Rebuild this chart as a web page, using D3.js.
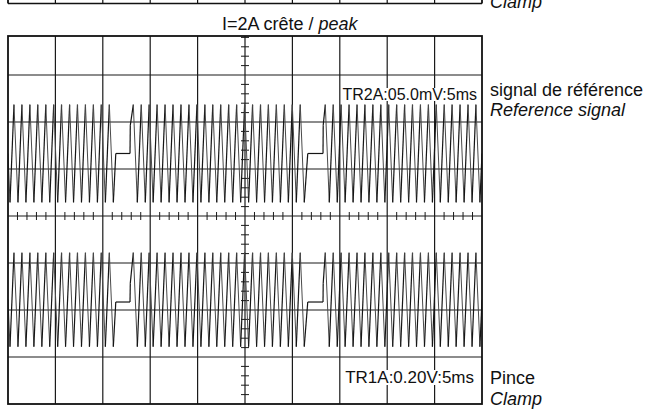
<!DOCTYPE html>
<html><head><meta charset="utf-8">
<script src="https://cdn.jsdelivr.net/npm/d3@7"></script>
<style>
body{margin:0;background:#fff}
svg{display:block}
text{font-family:"Liberation Sans",Arial,Helvetica,sans-serif;fill:#111}
</style>
</head><body>
<svg id="c" width="652" height="414"></svg>
<script>
// ---------------- data ----------------
// vertex times of both traces (ms), read from the screen (5 ms / div)
const timeMs = [
 0.00,0.21,0.63,1.05,1.47,1.89,2.31,2.73,3.14,3.57,3.99,4.40,4.82,5.24,5.65,6.07,6.50,6.91,7.33,7.75,8.17,8.59,9.01,9.43,9.84,10.27,10.69,11.11,
 11.37,12.87,12.90,
 13.22,13.64,14.06,14.48,14.89,15.31,15.73,16.15,16.57,16.99,17.41,17.83,18.25,18.67,19.09,19.51,19.93,20.35,20.77,21.19,21.60,22.02,
 22.44,22.86,23.28,23.70,24.12,24.54,24.96,25.38,25.80,26.22,26.64,27.06,27.47,27.89,28.31,28.73,29.15,29.57,29.99,30.41,30.83,31.25,
 31.62,33.23,33.25,
 33.47,33.89,34.31,34.73,35.14,35.56,35.98,36.40,36.82,37.24,37.65,38.07,38.49,38.91,39.33,39.75,40.16,40.58,41.00,41.42,
 41.84,42.26,42.67,43.09,43.51,43.93,44.35,44.77,45.18,45.60,46.02,46.44,46.85,47.27,47.69,48.11,48.53,48.95,49.36,49.78,
 50.00
];
// reference signal (mV), 5.0 mV/div
const refSignal_mV = [
 0,
 -5.2,5.2,-5.2,5.2,-5.2,5.2,-5.2,5.2,-5.2,5.2,-5.2,5.2,-5.2,5.2,-5.2,5.2,-5.2,5.2,-5.2,5.2,-5.2,5.2,-5.2,5.2,-5.2,5.2,
 -5.2,
 0,0,3.0,
 5.2,-5.2,5.2,-5.2,5.2,-5.2,5.2,-5.2,5.2,-5.2,5.2,-5.2,5.2,-5.2,5.2,-5.2,5.2,-5.2,5.2,-5.2,5.2,-5.2,
 5.2,-5.2,5.2,-5.2,5.2,-5.2,5.2,-5.2,5.2,-5.2,5.2,-5.2,5.2,-5.2,5.2,-5.2,5.2,-5.2,5.2,-5.2,5.2,-5.2,
 0,0,3.0,
 5.2,-5.2,5.2,-5.2,5.2,-5.2,5.2,-5.2,5.2,-5.2,5.2,-5.2,5.2,-5.2,5.2,-5.2,5.2,-5.2,5.2,-5.2,
 5.2,-5.2,5.2,-5.2,5.2,-5.2,5.2,-5.2,5.2,-5.2,5.2,-5.2,5.2,-5.2,5.2,-5.2,5.2,-5.2,5.2,-5.2,
 0
];
// clamp signal (V), 0.20 V/div
const clamp_V = [
 0,
 -0.2,0.2,-0.2,0.2,-0.2,0.2,-0.2,0.2,-0.2,0.2,-0.2,0.2,-0.2,0.2,-0.2,0.2,-0.2,0.2,-0.2,0.2,-0.2,0.2,-0.2,0.2,-0.2,0.2,
 -0.2,
 -0.01,-0.01,0.07,
 0.2,-0.2,0.2,-0.2,0.2,-0.2,0.2,-0.2,0.2,-0.2,0.2,-0.2,0.2,-0.2,0.2,-0.2,0.2,-0.2,0.2,-0.2,0.2,-0.2,
 0.2,-0.2,0.2,-0.2,0.2,-0.2,0.2,-0.2,0.2,-0.2,0.2,-0.2,0.2,-0.2,0.2,-0.2,0.2,-0.2,0.2,-0.2,0.2,-0.2,
 -0.01,-0.01,0.07,
 0.2,-0.2,0.2,-0.2,0.2,-0.2,0.2,-0.2,0.2,-0.2,0.2,-0.2,0.2,-0.2,0.2,-0.2,0.2,-0.2,0.2,-0.2,
 0.2,-0.2,0.2,-0.2,0.2,-0.2,0.2,-0.2,0.2,-0.2,0.2,-0.2,0.2,-0.2,0.2,-0.2,0.2,-0.2,0.2,-0.2,
 0
];
const refScale_mVperDiv = 5.0;
const clampScale_VperDiv = 0.20;
const refOffsetDiv = 1.33;
const clampOffsetDiv = -1.78;

const gridTimesMs = [0,5,10,15,20,25,30,35,40,45,50];
const gridDivs = [-3,-2,-1,0,1,2,3];

const titleText = ["I=2A crête / ", "peak"];
const refLabel = ["signal de référence", "Reference signal"];
const clampLabel = ["Pince", "Clamp"];
const prevClampLabel = "Clamp";
const refReadout = "TR2A:05.0mV:5ms";
const clampReadout = "TR1A:0.20V:5ms";

// ---------------- drawing ----------------
const svg = d3.select("#c");
const x = d3.scaleLinear().domain([0, 50]).range([8, 482]);
const y = d3.scaleLinear().domain([-4, 4]).range([404, 28]);
const yTop = 36, yBot = y(-4);

// remnant of previous screen at top
const prev = svg.append("g").attr("stroke", "#111");
prev.append("line").attr("x1", x(0)).attr("x2", x(50)).attr("y1", 3.5).attr("y2", 3.5).attr("stroke-width", 1.6);
prev.selectAll(null).data(gridTimesMs).join("line")
  .attr("x1", d => x(d)).attr("x2", d => x(d)).attr("y1", 0).attr("y2", 3.5)
  .attr("stroke-width", (d, i) => (i === 0 || i === gridTimesMs.length - 1) ? 1.8 : 1.2);
svg.append("text").attr("x", 490).attr("y", 8).attr("font-size", 18).attr("font-style", "italic").text(prevClampLabel);

// title
const tt = svg.append("text").attr("x", 222).attr("y", 29.5).attr("font-size", 18);
tt.append("tspan").text(titleText[0]);
tt.append("tspan").attr("font-style", "italic").text(titleText[1]);

// grid
const grid = svg.append("g").attr("stroke", "#1a1a1a");
grid.selectAll(".v").data(gridTimesMs.slice(1, -1)).join("line")
  .attr("x1", d => x(d)).attr("x2", d => x(d)).attr("y1", yTop).attr("y2", yBot)
  .attr("stroke-width", 1.2);
grid.selectAll(".h").data(gridDivs).join("line")
  .attr("x1", x(0)).attr("x2", x(50)).attr("y1", d => y(d)).attr("y2", d => y(d))
  .attr("stroke-width", 1.2);
// minor ticks on centre axes
const minorDivs = d3.range(-4, 3.81, 0.2).filter(d => y(d) > yTop + 1 && Math.abs(d - Math.round(d)) > 0.01);
grid.selectAll(".mv").data(minorDivs).join("line")
  .attr("x1", x(25) - 4).attr("x2", x(25) + 4).attr("y1", d => y(d)).attr("y2", d => y(d)).attr("stroke-width", 1);
const minorT = d3.range(1, 50, 1).filter(d => d % 5 !== 0);
grid.selectAll(".mh").data(minorT).join("line")
  .attr("x1", d => x(d)).attr("x2", d => x(d)).attr("y1", y(0) - 4).attr("y2", y(0) + 4).attr("stroke-width", 1);

// traces
svg.append("clipPath").attr("id", "clip").append("rect")
  .attr("x", x(0)).attr("y", yTop).attr("width", x(50) - x(0)).attr("height", yBot - yTop);
const tr = svg.append("g").attr("clip-path", "url(#clip)");
function drawTrace(vals, perDiv, offset) {
  const n = Math.min(timeMs.length, vals.length);
  const pts = d3.range(n).map(i => [x(timeMs[i]), y(offset + vals[i] / perDiv)]);
  const segs = d3.pairs(pts);
  tr.append("g").selectAll("line").data(segs).join("line")
    .attr("x1", d => d[0][0]).attr("y1", d => d[0][1])
    .attr("x2", d => d[1][0]).attr("y2", d => d[1][1])
    .attr("stroke", d => d[1][1] <= d[0][1] ? "#151515" : "#4a4a4a")
    .attr("stroke-width", d => d[1][1] <= d[0][1] ? 1.2 : 1.0);
}
drawTrace(refSignal_mV, refScale_mVperDiv, refOffsetDiv);
drawTrace(clamp_V, clampScale_VperDiv, clampOffsetDiv);

// frame
svg.append("rect").attr("x", x(0)).attr("y", yTop).attr("width", x(50) - x(0)).attr("height", yBot - yTop)
  .attr("fill", "none").attr("stroke", "#111").attr("stroke-width", 1.8);

// readouts with white background
function readout(txt, xr, yb, fs) {
  const t = svg.append("text").attr("x", xr).attr("y", yb).attr("font-size", fs)
    .attr("text-anchor", "end").text(txt);
  const b = t.node().getBBox();
  svg.insert("rect", () => t.node())
    .attr("x", b.x - 1).attr("y", b.y + 2).attr("width", b.width + 2).attr("height", b.height - 4)
    .attr("fill", "#fff");
}
readout(refReadout, 477, 100, 16);
readout(clampReadout, 474, 383, 17);

// side labels
svg.append("text").attr("x", 490).attr("y", 96).attr("font-size", 18).text(refLabel[0]);
svg.append("text").attr("x", 490).attr("y", 116).attr("font-size", 18).attr("font-style", "italic").text(refLabel[1]);
svg.append("text").attr("x", 490).attr("y", 384).attr("font-size", 18).text(clampLabel[0]);
svg.append("text").attr("x", 490).attr("y", 405).attr("font-size", 18).attr("font-style", "italic").text(clampLabel[1]);
</script>
</body></html>
